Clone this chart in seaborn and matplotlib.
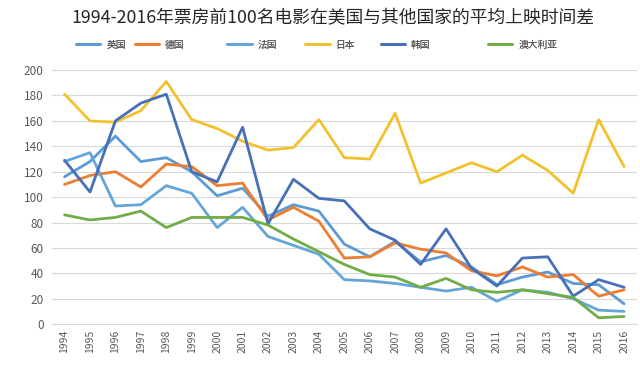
import matplotlib
matplotlib.use('Agg')
import matplotlib.pyplot as plt
import pandas as pd
import seaborn as sns

years = [str(y) for y in range(1994, 2017)]

uk = [116, 128, 148, 128, 131, 120, 101, 107, 85, 94, 89, 63, 53, 65, 49, 54, 45, 31, 37, 41, 32, 31, 16]
germany = [110, 117, 120, 108, 126, 124, 109, 111, 82, 92, 81, 52, 53, 64, 59, 56, 42, 38, 45, 37, 39, 22, 27]
france = [128, 135, 93, 94, 109, 103, 76, 92, 69, 62, 55, 35, 34, 32, 29, 26, 29, 18, 27, 25, 20, 11, 10]
japan = [181, 160, 159, 168, 191, 161, 154, 144, 137, 139, 161, 131, 130, 166, 111, 119, 127, 120, 133, 121, 103, 161, 124]
korea = [129, 104, 160, 174, 181, 120, 112, 155, 79, 114, 99, 97, 75, 66, 47, 75, 44, 30, 52, 53, 22, 35, 29]
australia = [86, 82, 84, 89, 76, 84, 84, 84, 78, 67, 57, 47, 39, 37, 29, 36, 27, 25, 27, 24, 21, 5, 6]

countries = ['英国', '德国', '法国', '日本', '韩国', '澳大利亚']
colors = ['#5B9BD5', '#ED7D31', '#64A5DA', '#F2C12E', '#4670B8', '#70AD47']

series = [uk, germany, france, japan, korea, australia]
rows = []
for name, vals in zip(countries, series):
    for yr, v in zip(years, vals):
        rows.append({'year': yr, 'value': v, 'country': name})
df = pd.DataFrame(rows)

sns.set_style('white')
plt.rcParams['font.family'] = ['Noto Sans CJK SC', 'DejaVu Sans']

fig = plt.figure(figsize=(6.4, 3.65), dpi=100)
ax = fig.add_axes([0.081, 0.112, 0.914, 0.696])

sns.lineplot(data=df, x='year', y='value', hue='country', hue_order=countries,
             palette=dict(zip(countries, colors)), linewidth=2.0, ax=ax, sort=False)

ax.set_xlim(-0.5, len(years) - 0.5)
ax.set_ylim(0, 200)
ax.set_yticks(range(0, 201, 20))
ax.set_xlabel('')
ax.set_ylabel('')
ax.grid(axis='y', color='#D9D9D9', linewidth=0.8)
ax.set_axisbelow(True)
for s in ['top', 'right', 'left']:
    ax.spines[s].set_visible(False)
ax.spines['bottom'].set_color('#D9D9D9')
ax.tick_params(axis='x', labelrotation=90, labelsize=7.5, colors='#595959', length=0, pad=4)
ax.tick_params(axis='y', labelsize=8.5, colors='#595959', length=0, pad=6)

# legend entries spaced like the original (uneven gaps)
ax.get_legend().remove()
handles, labels = ax.get_legend_handles_labels()
legend_x = [0.119, 0.211, 0.355, 0.477, 0.595, 0.7625]
for h, lab, lx in zip(handles, labels, legend_x):
    lg = fig.legend([h], [lab], loc='center left', bbox_to_anchor=(lx, 0.877),
                    frameon=False, fontsize=7, handlelength=2.5, handletextpad=0.6,
                    borderpad=0, borderaxespad=0, labelcolor='#595959')
    fig.add_artist(lg)

fig.suptitle('1994-2016年票房前100名电影在美国与其他国家的平均上映时间差',
             x=0.52, y=0.975, fontsize=12.8, color='#262626')

fig.savefig('out.png', dpi=100)
